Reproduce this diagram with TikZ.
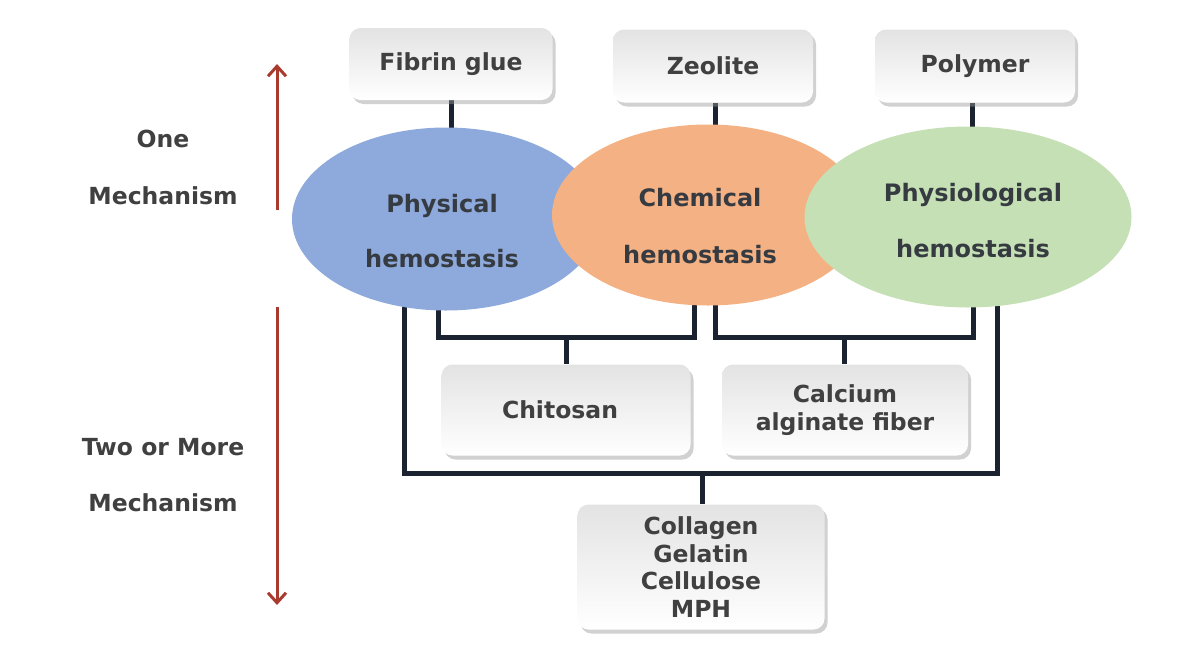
\documentclass[tikz,border=0pt]{standalone}
\usepackage{fontspec}
\setmainfont{DejaVu Sans}
\usetikzlibrary{shapes.geometric,shadows,arrows.meta}
\pgfdeclarelayer{background}
\pgfsetlayers{background,main}
\definecolor{txt}{HTML}{404040}
\definecolor{etxt}{HTML}{363B42}
\definecolor{conncol}{HTML}{1C2330}
\definecolor{bluefill}{HTML}{8EA9DB}
\definecolor{orangefill}{HTML}{F4B183}
\definecolor{greenfill}{HTML}{C5E0B4}
\definecolor{arrowred}{HTML}{A93A2E}
\tikzset{
  box/.style={rounded corners=11pt, top color=gray!22, bottom color=white,
    draw=none, drop shadow={shadow xshift=3pt, shadow yshift=-4pt, opacity=0.45, fill=gray!80},
    font=\fontsize{23.5}{27.5}\selectfont\bfseries, text=txt, align=center, inner sep=0pt},
  blob/.style={ellipse, draw=none, inner sep=0pt},
  etext/.style={font=\fontsize{24}{28}\selectfont\bfseries, text=etxt, anchor=base, inner sep=0pt},
  side/.style={font=\fontsize{23.5}{28}\selectfont\bfseries, text=txt, inner sep=0pt},
  conn/.style={line width=5pt, draw=conncol, line join=miter},
  redarrow/.style={line width=3pt, draw=arrowred, -{Straight Barb[length=10pt,width=18pt,line width=3pt]}}
}
\begin{document}
\begin{tikzpicture}[x=1pt,y=-1pt]
\useasboundingbox (0,0) rectangle (1201,651);

% top boxes
\node[box, minimum width=203pt, minimum height=72pt] (fibrin) at (451,64) {Fibrin glue};
\node[box, minimum width=200pt, minimum height=73pt] (zeolite) at (713,66) {Zeolite};
\node[box, minimum width=200pt, minimum height=73pt] (polymer) at (975,66) {Polymer};

% ellipses
\node[blob, fill=bluefill, minimum width=308pt, minimum height=183pt] (blue) at (446,219) {};
\node[blob, fill=orangefill, minimum width=312pt, minimum height=181pt] (orange) at (708,215) {};
\node[blob, fill=greenfill, minimum width=327pt, minimum height=181pt] (green) at (968,217) {};

\node[etext] (t1a) at (442,212) {Physical};
\node[etext] (t1b) at (442,267) {hemostasis};
\node[etext] (t2a) at (700,206) {Chemical};
\node[etext] (t2b) at (700,263) {hemostasis};
\node[etext] (t3a) at (973,201) {Physiological};
\node[etext] (t3b) at (973,257) {hemostasis};

% lower boxes
\node[box, minimum width=249pt, minimum height=91pt] (chitosan) at (566,410) {\hspace*{-12pt}Chitosan};
\node[box, minimum width=246pt, minimum height=91pt] (calcium) at (845,410) {Calcium\\alginate fiber};
\node[box, minimum width=247pt, minimum height=125pt] (collagen) at (701,567) {Collagen\\Gelatin\\Cellulose\\MPH};

% junction points
\coordinate (jl) at (566,337);
\coordinate (jr) at (844,337);
\coordinate (jb) at (702,473);

\begin{pgfonlayer}{background}
\draw[conn] (fibrin.south) -- (fibrin.south |- blue.center);
\draw[conn] ([xshift=2pt]zeolite.south) -- ([xshift=2pt]zeolite.south |- orange.center);
\draw[conn] ([xshift=-3pt]polymer.south) -- ([xshift=-3pt]polymer.south |- green.center);

\draw[conn] ([xshift=-42pt]blue.center) |- (jb) -| ([xshift=29pt]green.center);
\draw[conn] (jb) -- (jb |- collagen.north);
\draw[conn] ([xshift=-8pt]blue.center) |- (jl) -| ([xshift=-14pt]orange.center);
\draw[conn] (jl) -- (jl |- chitosan.north);
\draw[conn] ([xshift=7pt]orange.center) |- (jr) -| ([xshift=5pt]green.center);
\draw[conn] (jr) -- (jr |- calcium.north);
\end{pgfonlayer}

% side labels
\node[side] (one) at (163,139) {One};
\node[side] (mech1) at (163,196) {Mechanism};
\node[side] (two) at (163,447) {Two or More};
\node[side] (mech2) at (163,503) {Mechanism};

\coordinate (u0) at (277,210);
\coordinate (u1) at (277,64);
\coordinate (d0) at (277,307);
\coordinate (d1) at (277,605);
\draw[redarrow] (u0) -- (u1);
\draw[redarrow] (d0) -- (d1);
\end{tikzpicture}
\end{document}
